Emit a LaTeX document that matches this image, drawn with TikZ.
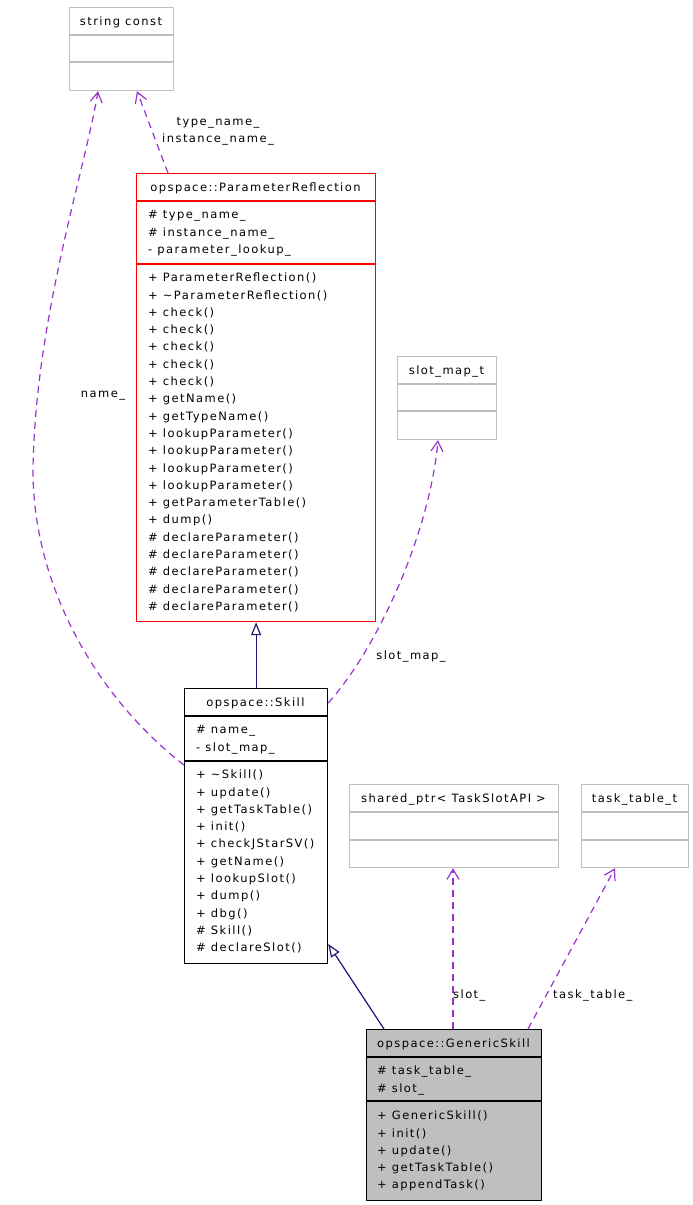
\documentclass[tikz,border=0pt]{standalone}
\usepackage{fontspec}
\setmainfont{DejaVu Sans}[LetterSpace=12.5]
\usepackage{tikz}
\usetikzlibrary{arrows.meta}

\definecolor{usagecol}{HTML}{9A32CD}
\definecolor{inhcol}{HTML}{191970}
\definecolor{extcol}{HTML}{BFBFBF}

\begin{document}
\begin{tikzpicture}[x=1pt,y=-1pt,line cap=butt,line join=round,
  font=\fontsize{11.5}{17.3}\selectfont,
  classbox/.style={draw=#1,line width=1.2pt,inner sep=0,anchor=north west},
  title/.style={anchor=base,inner sep=0},
  members/.style={anchor=north west,inner sep=0,align=left},
  usage/.style={draw=usagecol,line width=1.2pt,dash pattern=on 7pt off 5pt,-{Straight Barb[length=10pt,width=12pt]}},
  inherit/.style={draw=inhcol,line width=1.2pt,-{Triangle[open,length=13pt,width=10pt,fill=white]}},
  lbl/.style={inner sep=0,align=center}]
\path[use as bounding box] (0,0) rectangle (693,1205);
\node[classbox=extcol,minimum width=104,minimum height=83] (strc) at (69,7) {};
\draw[extcol,line width=1.2pt] (69,35) -- (173,35) (69,62) -- (173,62);
\node[title] (strc-t) at (121,25.5) {string const};
\node[classbox=red,minimum width=239,minimum height=448] (pr) at (136,173) {};
\draw[red,line width=1.2pt] (136,201) -- (375,201) (136,264) -- (375,264);
\node[title] (pr-t) at (255.5,191.5) {opspace::ParameterReflection};
\node[members] (pr-a) at (148,206.4) {\strut\# type\_name\_\\\# instance\_name\_\\- parameter\_lookup\_};
\node[members] (pr-m) at (148,269.4) {\strut+ ParameterReflection()\\+ \textasciitilde ParameterReflection()\\+ check()\\+ check()\\+ check()\\+ check()\\+ check()\\+ getName()\\+ getTypeName()\\+ lookupParameter()\\+ lookupParameter()\\+ lookupParameter()\\+ lookupParameter()\\+ getParameterTable()\\+ dump()\\\# declareParameter()\\\# declareParameter()\\\# declareParameter()\\\# declareParameter()\\\# declareParameter()};
\node[classbox=extcol,minimum width=99,minimum height=83] (slmap) at (397,356) {};
\draw[extcol,line width=1.2pt] (397,384) -- (496,384) (397,411) -- (496,411);
\node[title] (slmap-t) at (446.5,374.5) {slot\_map\_t};
\node[classbox=black,minimum width=143,minimum height=275] (skill) at (184,688) {};
\draw[line width=1.2pt] (184,716) -- (327,716) (184,761) -- (327,761);
\node[title] (skill-t) at (255.5,706.5) {opspace::Skill};
\node[members] (skill-a) at (196,721.4) {\strut\# name\_\\- slot\_map\_};
\node[members] (skill-m) at (196,766.4) {\strut+ \textasciitilde Skill()\\+ update()\\+ getTaskTable()\\+ init()\\+ checkJStarSV()\\+ getName()\\+ lookupSlot()\\+ dump()\\+ dbg()\\\# Skill()\\\# declareSlot()};
\node[classbox=extcol,minimum width=209,minimum height=83] (shptr) at (349,784) {};
\draw[extcol,line width=1.2pt] (349,812) -- (558,812) (349,840) -- (558,840);
\node[title] (shptr-t) at (453.5,802.5) {shared\_ptr< TaskSlotAPI >};
\node[classbox=extcol,minimum width=107,minimum height=83] (ttab) at (581,784) {};
\draw[extcol,line width=1.2pt] (581,812) -- (688,812) (581,840) -- (688,840);
\node[title] (ttab-t) at (634.5,802.5) {task\_table\_t};
\node[classbox=black,fill=extcol,minimum width=175,minimum height=171] (gs) at (366,1029) {};
\draw[line width=1.2pt] (366,1057) -- (541,1057) (366,1101) -- (541,1101);
\node[title] (gs-t) at (453.5,1047.5) {opspace::GenericSkill};
\node[members] (gs-a) at (377,1062.4) {\strut\# task\_table\_\\\# slot\_};
\node[members] (gs-m) at (377,1107.4) {\strut+ GenericSkill()\\+ init()\\+ update()\\+ getTaskTable()\\+ appendTask()};
\draw[inherit] (skill.north) -- (pr.south);
\draw[inherit] ([xshift=18pt]gs.north west) -- ([yshift=-256pt]skill.north east);
\draw[usage] ([yshift=-77pt]skill.north west) .. controls (100,700) and (33,590) .. (33,470) .. controls (35,320) and (85,170) .. ([xshift=29pt]strc.south west);
\node[lbl] (name-l) at (103,396) {name\_};
\draw[usage] ([xshift=32pt]pr.north west) -- ([xshift=68pt]strc.south west);
\node[lbl] (type-l) at (218,131.5) {type\_name\_\\instance\_name\_};
\draw[usage] ([yshift=-15pt]skill.north east) .. controls (380,645) and (430,530) .. ([xshift=41pt]slmap.south west);
\node[lbl] (slmap-l) at (411,656) {slot\_map\_};
\draw[usage] ([xshift=87pt]gs.north west) -- ([xshift=104pt]shptr.south west);
\node[lbl,anchor=west] (slot-l) at (453,995) {slot\_};
\draw[usage] ([xshift=162pt]gs.north west) -- ([xshift=34pt]ttab.south west);
\node[lbl,anchor=west] (ttab-l) at (553,995) {task\_table\_};
\end{tikzpicture}
\end{document}
